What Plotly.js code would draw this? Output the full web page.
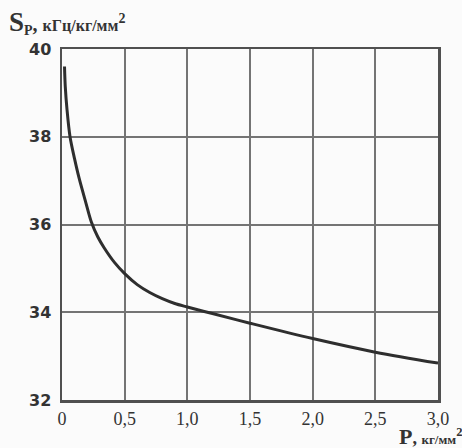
<!DOCTYPE html>
<html>
<head>
<meta charset="utf-8">
<script src="https://cdn.plot.ly/plotly-3.0.1.min.js"></script>
<style>
html,body{margin:0;padding:0;background:#fbfbfb;}
#chart{width:462px;height:448px;}
</style>
</head>
<body>
<div id="chart"></div>
<script>
// Data
const pressure = [0.02, 0.026, 0.04, 0.064, 0.1, 0.136, 0.19, 0.235, 0.285, 0.336, 0.42, 0.5, 0.6, 0.7, 0.8, 0.9, 1.0, 1.2, 1.5, 2.0, 2.5, 3.0];
const sensitivity = [39.6, 39.15, 38.62, 38.0, 37.5, 37.06, 36.5, 36.05, 35.72, 35.47, 35.13, 34.88, 34.63, 34.45, 34.31, 34.2, 34.12, 33.97, 33.75, 33.4, 33.09, 32.84];
const xTickVals = [0, 0.5, 1.0, 1.5, 2.0, 2.5, 3.0];
const xTickText = ["0", "0,5", "1,0", "1,5", "2,0", "2,5", "3,0"];
const yTickVals = [32, 34, 36, 38, 40];
const yTickText = ["32", "34", "36", "38", "40"];

const trace = {
  x: pressure,
  y: sensitivity,
  type: 'scatter',
  mode: 'lines',
  line: {color: '#2e2e2e', width: 3, shape: 'spline', smoothing: 0.9},
  hoverinfo: 'skip'
};

const layout = {
  width: 462,
  height: 448,
  margin: {l: 62, r: 24, t: 49, b: 48, pad: 0},
  paper_bgcolor: '#fbfbfb',
  plot_bgcolor: '#fbfbfb',
  showlegend: false,
  xaxis: {
    range: [0, 3],
    tickvals: xTickVals,
    ticktext: xTickText,
    showgrid: true,
    gridcolor: '#747474',
    gridwidth: 2,
    zeroline: false,
    showline: true,
    linecolor: '#505050',
    linewidth: 2.5,
    mirror: true,
    ticks: '',
    tickfont: {family: 'Liberation Serif, Times New Roman, serif', size: 18, color: '#333'},
    ticklabelstandoff: 1
  },
  yaxis: {
    range: [32, 40],
    tickvals: yTickVals,
    ticktext: yTickText,
    showgrid: true,
    gridcolor: '#747474',
    gridwidth: 2,
    zeroline: false,
    showline: true,
    linecolor: '#505050',
    linewidth: 2.5,
    mirror: true,
    ticks: '',
    tickfont: {family: 'DejaVu Sans, sans-serif', size: 16, color: '#333', weight: 'bold'},
    ticklabelstandoff: 5
  },
  annotations: [
    {
      xref: 'paper', yref: 'paper',
      x: -0.145, y: 1.025,
      xanchor: 'left', yanchor: 'bottom',
      showarrow: false,
      text: '<b><span style="font-size:27px">S</span><sub>P</sub>, <span style="font-size:16px">кГц/кг/мм</span><sup>2</sup></b>',
      font: {family: 'Liberation Serif, Times New Roman, serif', size: 20, color: '#333'}
    },
    {
      xref: 'paper', yref: 'paper',
      x: 1.07, y: -0.062,
      xanchor: 'right', yanchor: 'top',
      showarrow: false,
      text: '<b><span style="font-size:22px">P</span>, <span style="font-size:13px">кг/мм</span><sup>2</sup></b>',
      font: {family: 'Liberation Serif, Times New Roman, serif', size: 18, color: '#333'}
    }
  ]
};

Plotly.newPlot('chart', [trace], layout, {displayModeBar: false, staticPlot: true});
</script>
</body>
</html>
